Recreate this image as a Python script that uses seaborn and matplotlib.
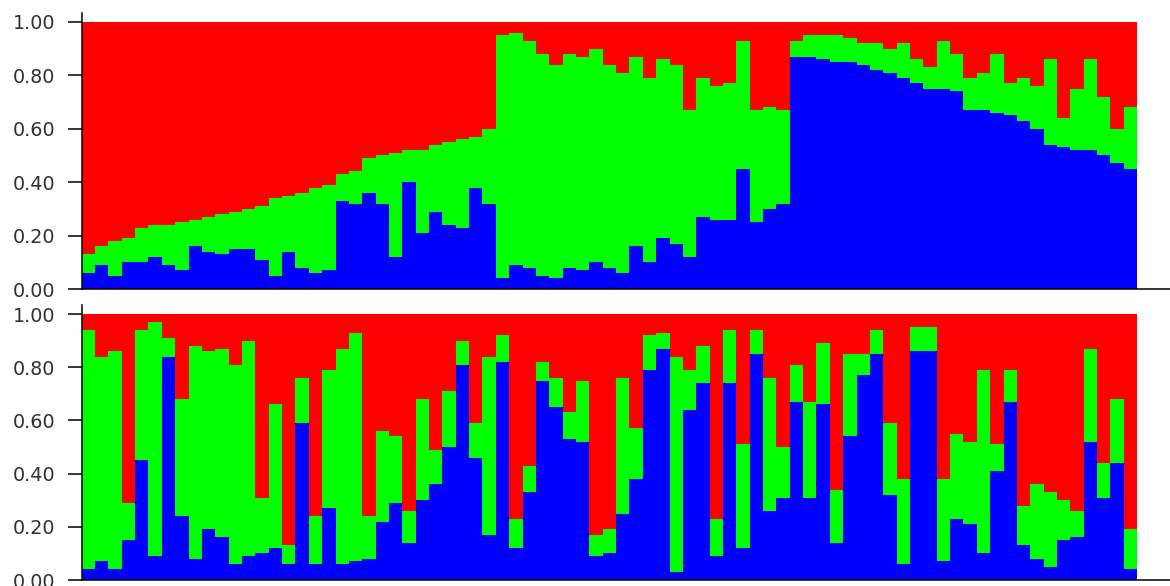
import numpy as np
import pandas as pd
import matplotlib
matplotlib.use("Agg")
import matplotlib.pyplot as plt
import seaborn as sns

# --- DATA: membership coefficients (Q) per individual, K = 3 ---
# top run
top_blue = [0.06, 0.09, 0.05, 0.10, 0.10, 0.12, 0.09, 0.07, 0.16, 0.14,
            0.13, 0.15, 0.15, 0.11, 0.05, 0.14, 0.08, 0.06, 0.07, 0.33,
            0.32, 0.36, 0.32, 0.12, 0.40, 0.21, 0.29, 0.24, 0.23, 0.38,
            0.32, 0.04, 0.09, 0.08, 0.05, 0.04, 0.08, 0.07, 0.10, 0.08,
            0.06, 0.16, 0.10, 0.19, 0.17, 0.12, 0.27, 0.26, 0.26, 0.45,
            0.25, 0.30, 0.32, 0.87, 0.87, 0.86, 0.85, 0.85, 0.84, 0.82,
            0.81, 0.79, 0.77, 0.75, 0.75, 0.74, 0.67, 0.67, 0.66, 0.65,
            0.63, 0.60, 0.54, 0.53, 0.52, 0.52, 0.50, 0.47, 0.45]
top_green = [0.07, 0.07, 0.13, 0.09, 0.13, 0.12, 0.15, 0.18, 0.10, 0.13,
             0.15, 0.14, 0.15, 0.20, 0.29, 0.21, 0.28, 0.32, 0.32, 0.10,
             0.12, 0.13, 0.18, 0.39, 0.12, 0.31, 0.25, 0.31, 0.33, 0.19,
             0.28, 0.91, 0.87, 0.85, 0.83, 0.80, 0.80, 0.80, 0.80, 0.76,
             0.75, 0.71, 0.69, 0.67, 0.67, 0.55, 0.52, 0.50, 0.51, 0.48,
             0.42, 0.38, 0.35, 0.06, 0.08, 0.09, 0.10, 0.09, 0.08, 0.10,
             0.09, 0.13, 0.09, 0.08, 0.18, 0.14, 0.12, 0.14, 0.22, 0.12,
             0.16, 0.16, 0.32, 0.11, 0.23, 0.34, 0.22, 0.13, 0.23]

# bottom run
bot_blue = [0.04, 0.07, 0.04, 0.15, 0.45, 0.09, 0.84, 0.24, 0.08, 0.19,
            0.16, 0.06, 0.09, 0.10, 0.12, 0.06, 0.59, 0.06, 0.27, 0.06,
            0.07, 0.08, 0.22, 0.29, 0.14, 0.30, 0.36, 0.50, 0.81, 0.46,
            0.17, 0.82, 0.12, 0.33, 0.75, 0.65, 0.53, 0.52, 0.09, 0.10,
            0.25, 0.38, 0.79, 0.87, 0.03, 0.64, 0.74, 0.09, 0.74, 0.12,
            0.85, 0.26, 0.31, 0.67, 0.31, 0.66, 0.14, 0.54, 0.77, 0.85,
            0.32, 0.06, 0.86, 0.86, 0.07, 0.23, 0.21, 0.10, 0.41, 0.67,
            0.13, 0.08, 0.05, 0.15, 0.16, 0.52, 0.31, 0.44, 0.04]
bot_green = [0.90, 0.77, 0.82, 0.14, 0.49, 0.88, 0.07, 0.44, 0.80, 0.67,
             0.71, 0.75, 0.81, 0.21, 0.54, 0.07, 0.17, 0.18, 0.52, 0.81,
             0.86, 0.16, 0.34, 0.25, 0.12, 0.38, 0.13, 0.21, 0.09, 0.13,
             0.67, 0.10, 0.11, 0.10, 0.07, 0.11, 0.10, 0.23, 0.08, 0.09,
             0.51, 0.19, 0.13, 0.06, 0.81, 0.15, 0.14, 0.14, 0.20, 0.39,
             0.09, 0.50, 0.19, 0.14, 0.36, 0.23, 0.20, 0.31, 0.08, 0.09,
             0.27, 0.32, 0.09, 0.09, 0.31, 0.32, 0.31, 0.69, 0.10, 0.12,
             0.15, 0.28, 0.28, 0.15, 0.10, 0.35, 0.13, 0.24, 0.15]

y_ticks = [0.0, 0.2, 0.4, 0.6, 0.8, 1.0]
y_labels = ["0.00", "0.20", "0.40", "0.60", "0.80", "1.00"]

RED, GREEN, BLUE = "#ff0000", "#00ff00", "#0000ff"

sns.set_style("white")
plt.rcParams["font.family"] = ["DejaVu Sans"]

fig = plt.figure(figsize=(11.7, 5.86), dpi=100)
ax_top = fig.add_axes([0.0698, 0.5068, 0.9302, 0.4718])
ax_bot = fig.add_axes([0.0698, 0.0102, 0.9302, 0.4698])


def structure_panel(ax, blue, green):
    df = pd.DataFrame({"ind": np.arange(len(blue)), "blue": blue, "green": green})
    df["red"] = 1 - df["blue"] - df["green"]
    df["blue_green"] = df["blue"] + df["green"]
    df["total"] = df["blue_green"] + df["red"]
    kw = dict(ax=ax, width=1.0, saturation=1, errorbar=None, native_scale=True,
              linewidth=0, edgecolor="none", antialiased=False)
    sns.barplot(data=df, x="ind", y="total", color=RED, **kw)
    sns.barplot(data=df, x="ind", y="blue_green", color=GREEN, **kw)
    sns.barplot(data=df, x="ind", y="blue", color=BLUE, **kw)

    ax.set_xlim(-0.5, 80.96)
    ax.set_ylim(0, 1.035)
    ax.set_xticks([])
    ax.set_yticks(y_ticks)
    ax.set_yticklabels(y_labels)
    ax.set_xlabel("")
    ax.set_ylabel("")
    ax.tick_params(axis="y", direction="out", length=10, width=1.1, color="black",
                   pad=9, labelsize=13.8, labelcolor="#303030", left=True)
    for side in ["top", "right"]:
        ax.spines[side].set_visible(False)
    for side in ["left", "bottom"]:
        ax.spines[side].set_color("black")
        ax.spines[side].set_linewidth(1.1)
    ax.set_facecolor("white")


structure_panel(ax_top, top_blue, top_green)
structure_panel(ax_bot, bot_blue, bot_green)

fig.savefig("out.png", dpi=100, facecolor="white")
